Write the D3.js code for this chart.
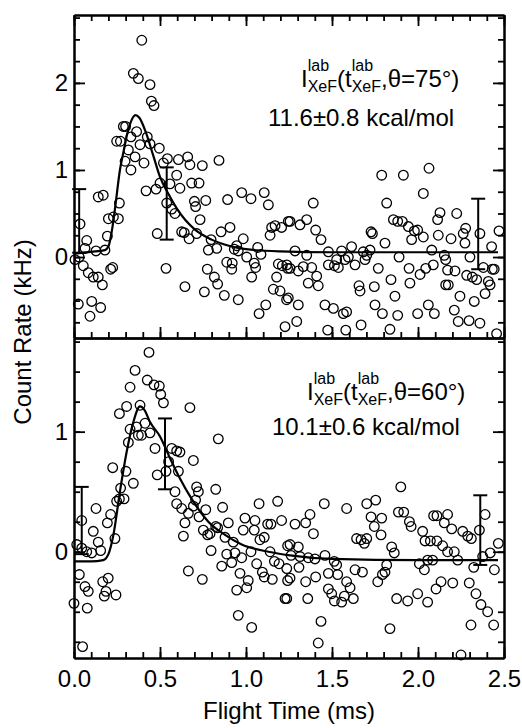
<!DOCTYPE html>
<html>
<head>
<meta charset="utf-8">
<script src="https://cdn.jsdelivr.net/npm/d3@7"></script>
<style>
  body { margin: 0; background: #fff; }
  svg { display: block; }
  text { font-family: "Liberation Sans", Arial, sans-serif; fill: #000; }
</style>
</head>
<body>
<script>
// ---- data ----
// top panel, theta = 75 deg
var topT = [0.394,0.345,0.374,0.442,0.450,0.465,0.287,0.300,0.248,0.270,0.364,0.331,0.426,0.316,0.384,0.442,0.496,0.355,0.297,0.407,
  0.331,0.543,0.520,0.419,0.477,0.500,0.558,0.539,0.568,0.587,0.484,0.535,0.264,0.229,0.258,0.200,0.141,0.170,0.194,0.035,
  0.074,0.128,0.180,0.006,0.030,0.064,0.054,0.083,0.112,0.141,0.165,0.213,0.225,0.025,0.103,0.155,0.093,
  0.607,0.661,0.674,0.746,0.843,0.597,0.616,0.684,0.727,0.700,0.707,0.766,0.733,0.893,0.975,1.029,1.106,1.130,0.626,0.641,
  0.669,0.713,0.855,0.907,0.797,0.781,0.830,0.946,0.984,0.932,0.955,1.004,1.068,1.087,1.048,1.056,0.888,0.920,0.917,0.775,
  0.816,0.835,1.033,0.645,0.758,0.874,0.955,1.076,1.115,1.227,1.149,1.169,1.207,1.140,1.246,1.188,1.211,1.242,1.178,1.159,
  1.198,1.236,
  1.789,1.915,1.391,1.818,1.256,1.353,1.314,1.405,1.436,1.727,1.735,1.808,1.857,1.882,1.285,1.353,1.479,1.556,1.614,1.682,
  1.702,1.721,1.237,1.256,1.304,1.333,1.382,1.411,1.362,1.420,1.479,1.514,1.537,1.527,1.576,1.595,1.634,1.692,1.657,1.663,
  1.746,1.769,1.843,1.866,1.246,1.304,1.459,1.508,1.566,1.585,1.750,1.793,1.295,1.475,1.580,1.669,1.837,
  2.064,2.031,1.909,1.944,1.979,1.998,1.963,2.031,2.114,2.128,2.225,2.118,2.192,2.263,2.277,2.273,2.360,2.428,2.471,1.890,
  2.080,2.153,2.161,1.948,2.012,2.045,2.089,2.172,2.215,2.302,2.283,2.316,2.341,2.380,2.432,2.443,2.409,2.419,2.161,2.176,
  1.953,1.882,1.998,2.060,2.095,2.244,2.327,2.390,2.211,2.234,2.297,2.360,2.457];
var topV = [2.49,2.11,2.05,1.98,1.79,1.74,1.50,1.50,1.33,1.33,1.44,1.38,1.38,1.23,1.29,1.30,1.25,1.15,1.10,1.08,
  1.00,1.13,1.08,0.76,0.78,0.85,0.84,0.62,0.55,0.50,0.27,-0.13,0.62,0.46,0.44,0.44,0.69,0.71,0.24,0.38,
  0.19,0.07,0.08,-0.03,0.00,0.10,-0.10,-0.18,-0.23,-0.23,-0.32,-0.14,-0.12,-0.54,-0.51,-0.58,-0.68,
  1.12,1.15,1.06,1.05,1.11,0.94,0.79,0.85,0.85,0.64,0.58,0.65,0.43,0.66,0.74,0.67,0.74,0.60,0.29,0.28,
  0.21,0.27,0.29,0.34,0.20,0.08,0.10,0.13,0.21,0.09,0.07,0.00,0.11,0.03,-0.07,-0.12,-0.06,-0.07,-0.14,-0.14,
  -0.23,-0.31,-0.23,-0.34,-0.40,-0.44,-0.49,-0.65,-0.55,-0.80,0.34,0.36,0.34,0.25,0.41,-0.08,-0.10,-0.13,-0.23,-0.37,
  -0.39,-0.49,
  0.94,0.94,0.62,0.62,0.41,0.43,0.37,0.31,0.20,0.29,0.27,0.16,0.43,0.41,0.07,0.02,0.06,0.07,0.12,0.06,
  0.02,0.08,-0.09,-0.13,-0.16,-0.11,-0.12,-0.22,-0.30,-0.33,-0.09,-0.10,-0.12,-0.03,-0.03,0.00,-0.09,-0.03,-0.33,-0.39,
  -0.34,-0.13,-0.26,-0.45,-0.47,-0.55,-0.55,-0.59,-0.65,-0.63,-0.55,-0.65,-0.74,-0.84,-0.84,-0.78,-0.83,
  1.02,0.73,0.41,0.35,0.30,0.31,0.20,0.23,0.43,0.51,0.50,0.25,0.21,0.27,0.33,0.16,0.27,0.12,0.30,0.00,
  0.08,0.02,-0.03,-0.13,-0.20,-0.13,-0.09,-0.15,-0.16,0.00,-0.21,-0.23,-0.26,-0.12,-0.14,-0.14,-0.28,-0.32,-0.32,-0.32,
  -0.30,-0.67,-0.65,-0.55,-0.65,-0.45,-0.51,-0.42,-0.61,-0.74,-0.73,-0.76,-0.88];

var fitTopT = [0, 0.1, 0.18, 0.2, 0.22, 0.24, 0.267, 0.287, 0.31, 0.33, 0.357, 0.38, 0.42, 0.46, 0.5, 0.55, 0.6, 0.7, 0.8, 0.9, 1.0, 1.2, 1.5, 2.0, 2.465];
var fitTopV = [0.04, 0.06, 0.08, 0.12, 0.3, 0.58, 1.0, 1.2, 1.42, 1.55, 1.63, 1.60, 1.42, 1.17, 0.92, 0.72, 0.55, 0.32, 0.2, 0.13, 0.09, 0.065, 0.055, 0.055, 0.055];

var errTopT = [0.03, 0.539, 2.35];
var errTopLo = [0.05, 0.20, -0.14];
var errTopHi = [0.78, 1.03, 0.67];

// bottom panel, theta = 60 deg
var botT = [0.436,0.355,0.326,0.426,0.465,0.496,0.504,0.520,0.264,0.306,0.384,0.364,0.413,0.326,0.393,0.442,0.374,0.316,0.471,0.568,
  0.550,0.225,0.302,0.484,0.535,0.345,0.271,0.264,0.291,0.248,0.128,0.213,0.194,0.045,0.112,0.238,0.141,0.155,0.103,0.016,
  0.045,0.074,0.031,0.064,0.083,0.167,0.199,0.186,0.176,0.244,0.000,0.077,0.050,
  0.674,0.839,0.597,0.616,0.607,0.694,0.587,0.597,0.626,0.665,0.713,0.723,0.707,0.694,0.766,0.645,0.636,0.727,0.824,0.864,
  0.752,0.777,0.791,0.824,0.835,0.897,0.797,0.878,0.926,0.888,0.936,0.917,0.975,0.994,1.052,1.076,0.984,1.048,1.106,1.126,
  1.145,1.184,1.207,1.081,1.029,0.859,0.965,1.013,1.062,1.095,1.106,1.153,1.140,1.165,1.192,1.242,0.665,0.746,0.946,1.004,
  1.227,0.955,1.033,1.242,
  1.455,1.585,1.702,1.754,1.727,1.789,1.746,1.785,1.900,1.886,1.285,1.347,1.372,1.392,1.256,1.304,1.262,1.314,1.362,1.401,
  1.459,1.513,1.527,1.643,1.669,1.688,1.702,1.847,1.862,1.237,1.256,1.308,1.347,1.405,1.479,1.533,1.585,1.605,1.479,1.498,
  1.514,1.556,1.572,1.624,1.634,1.677,1.766,1.793,1.808,1.818,1.237,1.359,1.436,1.420,1.837,1.876,
  1.917,1.950,1.960,2.027,2.041,2.072,2.110,2.091,2.110,2.172,2.153,2.196,2.143,2.172,2.211,2.231,2.260,2.289,2.310,2.357,
  2.390,2.324,2.376,2.420,2.467,2.444,2.008,2.056,2.085,2.037,2.134,2.105,2.202,2.298,2.337,2.366,2.405,2.308,2.440,1.940,
  2.056,1.998,2.250];
var botV = [1.66,1.51,1.37,1.43,1.39,1.38,1.31,1.24,1.15,1.21,1.22,1.04,1.07,1.02,0.97,0.99,0.97,0.91,0.86,0.86,
  0.75,0.70,0.67,0.64,0.67,0.57,0.53,0.44,0.44,0.42,0.36,0.31,0.24,0.26,0.17,0.11,0.08,0.01,-0.01,0.06,
  0.03,0.00,-0.19,-0.29,-0.33,-0.25,-0.22,-0.33,-0.37,-0.36,-0.43,-0.47,-0.79,
  1.20,0.94,0.84,0.83,0.67,0.76,0.50,0.40,0.36,0.32,0.54,0.50,0.43,0.38,0.35,0.24,0.13,0.29,0.52,0.37,
  0.18,0.14,0.15,0.21,0.20,0.24,0.01,0.12,0.08,-0.02,-0.01,-0.09,-0.05,0.28,0.26,0.40,0.18,0.18,0.12,0.23,
  0.23,0.42,0.26,0.10,0.00,-0.12,-0.18,-0.24,-0.10,-0.17,-0.21,-0.23,0.00,-0.08,-0.10,0.05,-0.16,-0.23,-0.32,-0.30,
  -0.39,-0.53,-0.63,-0.24,
  0.40,0.36,0.40,0.43,0.29,0.28,0.21,0.14,0.54,0.33,0.23,0.24,0.31,0.15,0.06,0.04,-0.03,-0.04,-0.05,-0.06,
  -0.03,-0.08,-0.11,0.11,0.10,0.07,0.11,0.04,-0.01,-0.14,-0.22,-0.13,-0.25,-0.21,-0.18,-0.19,-0.25,-0.30,-0.31,-0.35,
  -0.41,-0.42,-0.37,-0.39,-0.15,-0.17,-0.25,-0.19,-0.17,-0.11,-0.39,-0.39,-0.58,-0.76,-0.64,-0.39,
  0.33,0.25,0.21,0.17,0.09,0.09,0.09,0.30,0.30,0.31,0.24,0.19,0.05,0.00,0.00,-0.07,0.17,0.13,0.11,0.18,
  0.31,-0.13,-0.04,-0.01,0.07,-0.15,-0.10,-0.07,-0.07,-0.15,-0.25,-0.31,-0.26,-0.26,-0.35,-0.44,-0.50,-0.61,-0.61,-0.41,
  -0.42,-0.35,-0.86];

var fitBotT = [0, 0.1, 0.17, 0.2, 0.229, 0.267, 0.306, 0.345, 0.384, 0.41, 0.442, 0.5, 0.558, 0.616, 0.684, 0.781, 0.878, 0.975, 1.13, 1.256, 1.5, 2.0, 2.465];
var fitBotV = [-0.08, -0.08, -0.07, -0.02, 0.14, 0.50, 0.83, 1.08, 1.21, 1.18, 1.08, 0.96, 0.78, 0.61, 0.44, 0.25, 0.14, 0.06, 0.0, -0.03, -0.06, -0.07, -0.07];

var errBotT = [0.045, 0.529, 2.362];
var errBotLo = [-0.02, 0.52, -0.11];
var errBotHi = [0.54, 1.11, 0.47];

var xMajor = [0, 0.5, 1.0, 1.5, 2.0, 2.5];
var topMajor = [0, 1, 2];
var botMajor = [0, 1];
var angles = ["75°", "60°"];
var energies = ["11.6±0.8 kcal/mol", "10.1±0.6 kcal/mol"];

// ---- layout ----
var width = 522, height = 728;
var left = 74, right = 504;
var topY0 = 15, midY = 338, botY1 = 658;

var svg = d3.select('body').append('svg')
    .attr('width', width)
    .attr('height', height);

var x = d3.scaleLinear().domain([0, 2.5]).range([left, right]);
var xMinor = d3.range(0, 2.51, 0.1).map(function(d) { return +d.toFixed(2); });

var yTop = d3.scaleLinear().domain([-0.93, 2.78]).range([midY, topY0]);
var yBot = d3.scaleLinear().domain([-0.885, 1.78]).range([botY1, midY]);

function minorTicks(y) {
    var dom = y.domain(), out = [];
    for (var v = Math.ceil(dom[0] * 4) / 4; v <= dom[1]; v += 0.25) out.push(v);
    return out;
}

function styleAxis(g) {
    g.select('.domain').attr('stroke-width', 2);
    g.selectAll('.tick line').attr('stroke-width', 1.8);
    g.selectAll('.tick text').attr('font-size', 24).attr('font-family', '"Liberation Sans", Arial, sans-serif');
}

function drawPanel(y, major, T, V, fT, fV, eT, eLo, eHi, isTop, k) {
    var g = svg.append('g');

    // left axis with labels
    g.append('g').attr('transform', 'translate(' + left + ',0)')
        .call(d3.axisLeft(y).tickValues(minorTicks(y)).tickSizeInner(-6).tickSizeOuter(0).tickFormat(''))
        .call(styleAxis);
    g.append('g').attr('transform', 'translate(' + left + ',0)')
        .call(d3.axisLeft(y).tickValues(major).tickSizeInner(-11).tickSizeOuter(0).tickPadding(6).tickFormat(d3.format('d')))
        .call(styleAxis);

    // right axis
    g.append('g').attr('transform', 'translate(' + right + ',0)')
        .call(d3.axisRight(y).tickValues(minorTicks(y)).tickSizeInner(-6).tickSizeOuter(0).tickFormat(''))
        .call(styleAxis);
    g.append('g').attr('transform', 'translate(' + right + ',0)')
        .call(d3.axisRight(y).tickValues(major).tickSizeInner(-11).tickSizeOuter(0).tickFormat(''))
        .call(styleAxis);

    var r = y.range();
    if (isTop) {
        g.append('g').attr('transform', 'translate(0,' + r[1] + ')')
            .call(d3.axisTop(x).tickValues(xMinor).tickSizeInner(-6).tickSizeOuter(0).tickFormat(''))
            .call(styleAxis);
        g.append('g').attr('transform', 'translate(0,' + r[1] + ')')
            .call(d3.axisTop(x).tickValues(xMajor).tickSizeInner(-11).tickSizeOuter(0).tickFormat(''))
            .call(styleAxis);
        g.append('g').attr('transform', 'translate(0,' + r[0] + ')')
            .call(d3.axisBottom(x).tickValues(xMinor).tickSizeInner(-6).tickSizeOuter(0).tickFormat(''))
            .call(styleAxis);
        g.append('g').attr('transform', 'translate(0,' + r[0] + ')')
            .call(d3.axisBottom(x).tickValues(xMajor).tickSizeInner(-11).tickSizeOuter(0).tickFormat(''))
            .call(styleAxis);
    } else {
        g.append('g').attr('transform', 'translate(0,' + r[1] + ')')
            .call(d3.axisTop(x).tickValues([]).tickSizeOuter(0))
            .call(styleAxis);
        g.append('g').attr('transform', 'translate(0,' + r[0] + ')')
            .call(d3.axisBottom(x).tickValues(xMinor).tickSizeInner(-6).tickSizeOuter(0).tickFormat(''))
            .call(styleAxis);
        g.append('g').attr('transform', 'translate(0,' + r[0] + ')')
            .call(d3.axisBottom(x).tickValues(xMajor).tickSizeInner(-11).tickSizeOuter(0).tickPadding(12).tickFormat(d3.format('.1f')))
            .call(styleAxis);
    }

    // data points
    g.append('g').selectAll('circle')
        .data(d3.range(T.length))
        .enter()
        .append('circle')
        .attr('cx', function(i) { return x(T[i]); })
        .attr('cy', function(i) { return y(V[i]); })
        .attr('r', 4.8)
        .attr('fill', 'none')
        .attr('stroke', 'black')
        .attr('stroke-width', 1.3);

    // fit
    var line = d3.line()
        .x(function(i) { return x(fT[i]); })
        .y(function(i) { return y(fV[i]); })
        .curve(d3.curveMonotoneX);
    g.append('path')
        .datum(d3.range(fT.length))
        .attr('d', line)
        .attr('fill', 'none')
        .attr('stroke', 'black')
        .attr('stroke-width', 2.2);

    // error bars
    var eb = g.append('g').selectAll('g')
        .data(d3.range(eT.length))
        .enter()
        .append('g')
        .attr('stroke', 'black')
        .attr('stroke-width', 2);
    eb.append('line')
        .attr('x1', function(i) { return x(eT[i]); })
        .attr('x2', function(i) { return x(eT[i]); })
        .attr('y1', function(i) { return y(eLo[i]); })
        .attr('y2', function(i) { return y(eHi[i]); });
    [eLo, eHi].forEach(function(arr) {
        eb.append('line')
            .attr('x1', function(i) { return x(eT[i]) - 7; })
            .attr('x2', function(i) { return x(eT[i]) + 7; })
            .attr('y1', function(i) { return y(arr[i]); })
            .attr('y2', function(i) { return y(arr[i]); });
    });

    // annotation
    var ax = isTop ? 301 : 307, ay = isTop ? 87 : 400;
    var ex = isTop ? 268 : 272, ey = isTop ? 126 : 435;
    var cx = ax;
    var parts = [
        {t: 'I'}, {sup: 'lab', sub: 'XeF'}, {t: '(t'}, {sup: 'lab', sub: 'XeF'}, {t: ',θ=' + angles[k] + ')'}
    ];
    parts.forEach(function(p) {
        if (p.t) {
            var t = g.append('text').attr('x', cx).attr('y', ay).attr('font-size', 24).text(p.t);
            cx += t.node().getComputedTextLength();
        } else {
            var s1 = g.append('text').attr('x', cx).attr('y', ay - 16).attr('font-size', 16).text(p.sup);
            var s2 = g.append('text').attr('x', cx).attr('y', ay + 5).attr('font-size', 16).text(p.sub);
            cx += Math.max(s1.node().getComputedTextLength(), s2.node().getComputedTextLength());
        }
    });
    g.append('text').attr('x', ex).attr('y', ey).attr('font-size', 24).text(energies[k]);
}

drawPanel(yTop, topMajor, topT, topV, fitTopT, fitTopV, errTopT, errTopLo, errTopHi, true, 0);
drawPanel(yBot, botMajor, botT, botV, fitBotT, fitBotV, errBotT, errBotLo, errBotHi, false, 1);

// axis titles
svg.append('text')
    .attr('transform', 'translate(31,332) rotate(-90)')
    .attr('text-anchor', 'middle')
    .attr('font-size', 24)
    .text('Count Rate (kHz)');

svg.append('text')
    .attr('x', (left + right) / 2)
    .attr('y', 719)
    .attr('text-anchor', 'middle')
    .attr('font-size', 24)
    .text('Flight Time (ms)');
</script>
</body>
</html>
